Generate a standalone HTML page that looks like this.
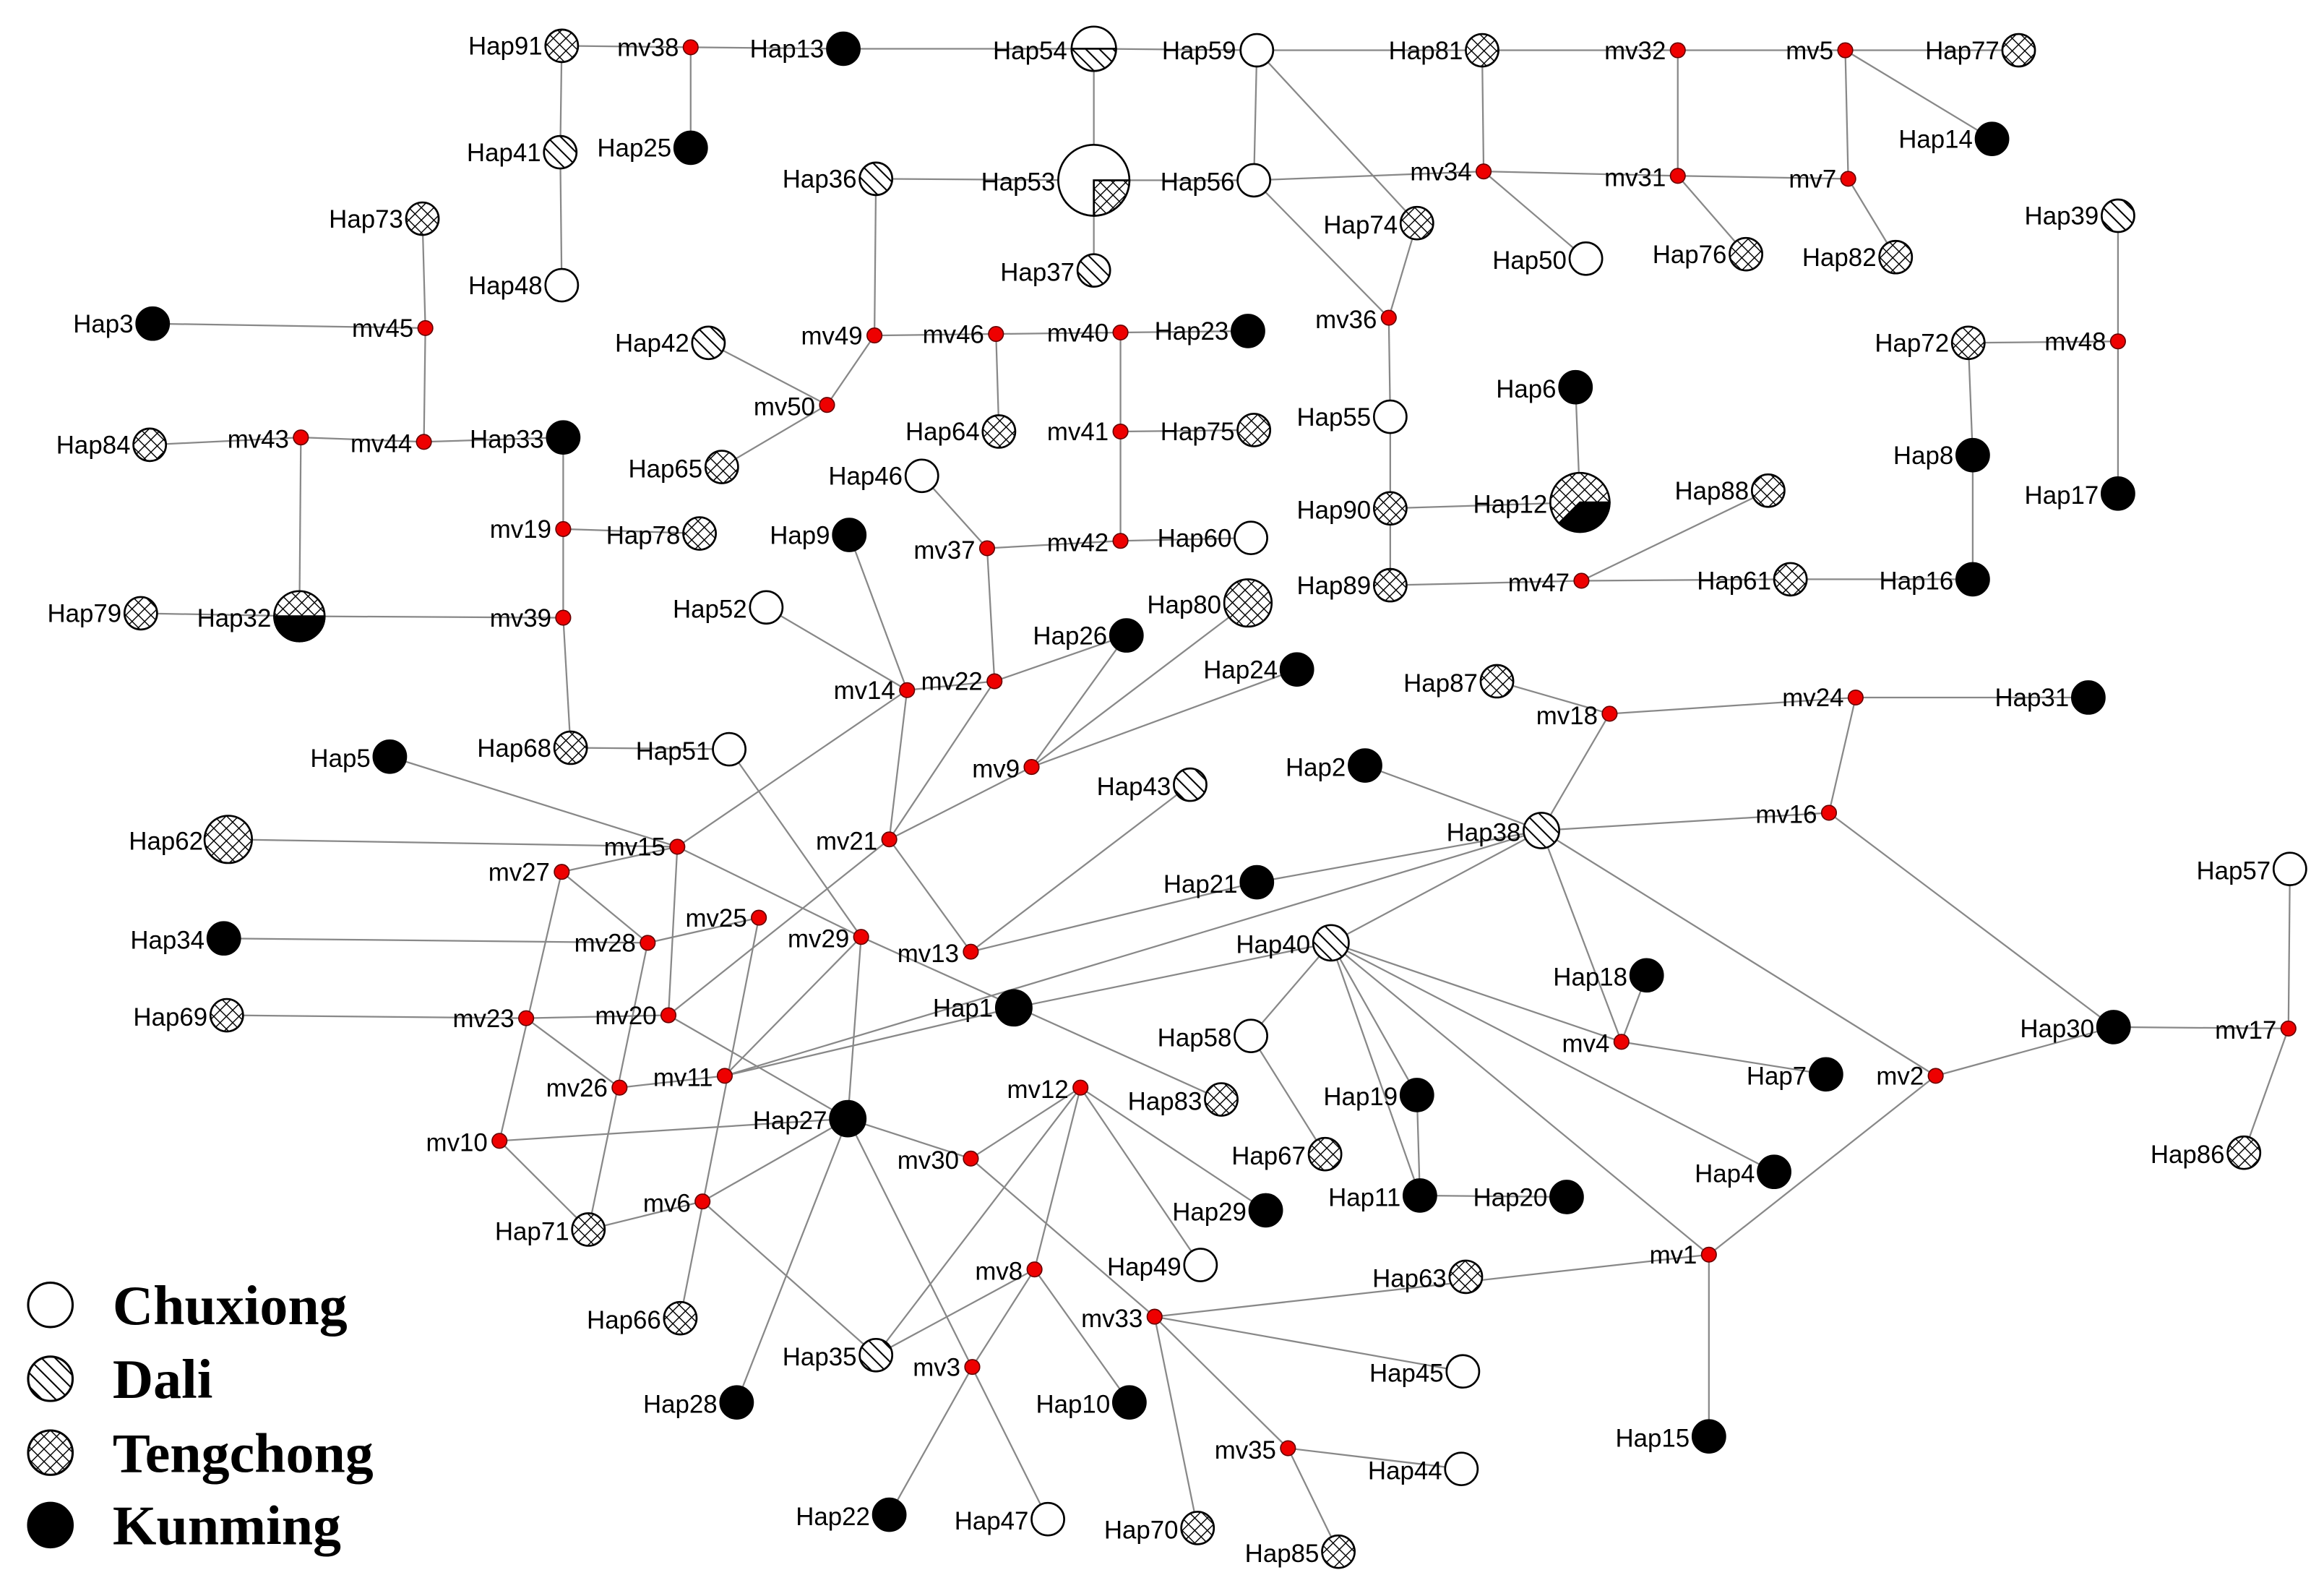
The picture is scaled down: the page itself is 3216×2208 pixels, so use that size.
<!DOCTYPE html>
<html><head><meta charset="utf-8"><style>html,body{margin:0;padding:0;background:#fff}svg{display:block}</style></head><body>
<svg width="3216" height="2208" viewBox="0 0 1568 1080" preserveAspectRatio="none" xmlns="http://www.w3.org/2000/svg">
<defs>
<pattern id="d" width="6.5" height="6.5" patternUnits="userSpaceOnUse" patternTransform="rotate(-45)"><rect width="6.5" height="6.5" fill="#fff"/><line x1="0" y1="0" x2="0" y2="6.5" stroke="#000" stroke-width="2"/></pattern>
<pattern id="t" width="6" height="6" patternUnits="userSpaceOnUse" patternTransform="rotate(45)"><rect width="6" height="6" fill="#fff"/><line x1="0" y1="0" x2="0" y2="6" stroke="#000" stroke-width="1.4"/><line x1="0" y1="0" x2="6" y2="0" stroke="#000" stroke-width="1.4"/></pattern>
</defs>
<rect width="1568" height="1080" fill="#fff"/>
<g stroke="#888" stroke-width="1.1">
<line x1="379" y1="31" x2="466" y2="32"/><line x1="466" y1="32" x2="569" y2="33"/><line x1="569" y1="33" x2="738" y2="33"/><line x1="738" y1="33" x2="848" y2="34"/><line x1="848" y1="34" x2="1000" y2="34"/><line x1="1000" y1="34" x2="1132" y2="34"/><line x1="1132" y1="34" x2="1245" y2="34"/><line x1="1245" y1="34" x2="1362" y2="34"/><line x1="1245" y1="34" x2="1344" y2="94"/><line x1="1245" y1="34" x2="1247" y2="121"/><line x1="1132" y1="34" x2="1132" y2="119"/><line x1="1132" y1="119" x2="1247" y2="121"/><line x1="1132" y1="119" x2="1178" y2="172"/><line x1="1247" y1="121" x2="1279" y2="174"/><line x1="1000" y1="34" x2="1001" y2="116"/><line x1="1001" y1="116" x2="1132" y2="119"/><line x1="846" y1="122" x2="1001" y2="116"/><line x1="1001" y1="116" x2="1070" y2="175"/><line x1="848" y1="34" x2="846" y2="122"/><line x1="848" y1="34" x2="956" y2="151"/><line x1="846" y1="122" x2="937" y2="215"/><line x1="956" y1="151" x2="937" y2="215"/><line x1="738" y1="33" x2="738" y2="122"/><line x1="738" y1="122" x2="738" y2="183"/><line x1="591" y1="121" x2="738" y2="122"/><line x1="738" y1="122" x2="846" y2="122"/><line x1="379" y1="31" x2="378" y2="103"/><line x1="378" y1="103" x2="379" y2="193"/><line x1="466" y1="32" x2="466" y2="100"/><line x1="591" y1="121" x2="590" y2="227"/><line x1="285" y1="148" x2="287" y2="222"/><line x1="103" y1="219" x2="287" y2="222"/><line x1="287" y1="222" x2="286" y2="299"/><line x1="286" y1="299" x2="203" y2="296"/><line x1="203" y1="296" x2="101" y2="301"/><line x1="286" y1="299" x2="380" y2="296"/><line x1="203" y1="296" x2="202" y2="417"/><line x1="95" y1="415" x2="202" y2="417"/><line x1="202" y1="417" x2="380" y2="418"/><line x1="380" y1="296" x2="380" y2="358"/><line x1="380" y1="358" x2="472" y2="361"/><line x1="380" y1="358" x2="380" y2="418"/><line x1="380" y1="418" x2="385" y2="506"/><line x1="385" y1="506" x2="492" y2="507"/><line x1="590" y1="227" x2="672" y2="226"/><line x1="672" y1="226" x2="756" y2="225"/><line x1="756" y1="225" x2="842" y2="224"/><line x1="672" y1="226" x2="674" y2="292"/><line x1="756" y1="225" x2="756" y2="292"/><line x1="756" y1="292" x2="846" y2="291"/><line x1="756" y1="292" x2="756" y2="366"/><line x1="756" y1="366" x2="844" y2="364"/><line x1="756" y1="366" x2="666" y2="371"/><line x1="666" y1="371" x2="622" y2="322"/><line x1="666" y1="371" x2="671" y2="461"/><line x1="590" y1="227" x2="558" y2="274"/><line x1="478" y1="232" x2="558" y2="274"/><line x1="558" y1="274" x2="487" y2="316"/><line x1="937" y1="215" x2="938" y2="282"/><line x1="938" y1="282" x2="938" y2="344"/><line x1="938" y1="344" x2="1066" y2="340"/><line x1="1066" y1="340" x2="1063" y2="262"/><line x1="938" y1="344" x2="938" y2="396"/><line x1="938" y1="396" x2="1067" y2="393"/><line x1="1067" y1="393" x2="1208" y2="392"/><line x1="1208" y1="392" x2="1331" y2="392"/><line x1="1067" y1="393" x2="1193" y2="332"/><line x1="1331" y1="392" x2="1331" y2="308"/><line x1="1331" y1="308" x2="1328" y2="232"/><line x1="1328" y1="232" x2="1429" y2="231"/><line x1="1429" y1="146" x2="1429" y2="231"/><line x1="1429" y1="231" x2="1429" y2="334"/>
<line x1="517" y1="411" x2="612" y2="467"/><line x1="573" y1="362" x2="612" y2="467"/><line x1="612" y1="467" x2="671" y2="461"/><line x1="671" y1="461" x2="760" y2="430"/><line x1="696" y1="519" x2="760" y2="430"/><line x1="696" y1="519" x2="842" y2="408"/><line x1="696" y1="519" x2="875" y2="453"/><line x1="696" y1="519" x2="600" y2="568"/><line x1="671" y1="461" x2="600" y2="568"/><line x1="612" y1="467" x2="600" y2="568"/><line x1="612" y1="467" x2="457" y2="573"/><line x1="263" y1="512" x2="457" y2="573"/><line x1="154" y1="568" x2="457" y2="573"/><line x1="379" y1="590" x2="457" y2="573"/><line x1="457" y1="573" x2="451" y2="687"/><line x1="457" y1="573" x2="581" y2="634"/><line x1="379" y1="590" x2="437" y2="638"/><line x1="151" y1="635" x2="437" y2="638"/><line x1="437" y1="638" x2="512" y2="621"/><line x1="451" y1="687" x2="600" y2="568"/><line x1="379" y1="590" x2="337" y2="772"/><line x1="437" y1="638" x2="397" y2="832"/><line x1="153" y1="687" x2="355" y2="689"/><line x1="355" y1="689" x2="451" y2="687"/><line x1="355" y1="689" x2="418" y2="736"/><line x1="337" y1="772" x2="397" y2="832"/><line x1="337" y1="772" x2="572" y2="757"/><line x1="451" y1="687" x2="572" y2="757"/><line x1="418" y1="736" x2="489" y2="728"/><line x1="489" y1="728" x2="684" y2="682"/><line x1="489" y1="728" x2="1040" y2="562"/><line x1="489" y1="728" x2="581" y2="634"/><line x1="581" y1="634" x2="572" y2="757"/><line x1="581" y1="634" x2="492" y2="507"/><line x1="581" y1="634" x2="824" y2="744"/><line x1="655" y1="644" x2="803" y2="531"/><line x1="655" y1="644" x2="848" y2="597"/><line x1="655" y1="644" x2="600" y2="568"/><line x1="848" y1="597" x2="1040" y2="562"/><line x1="684" y1="682" x2="898" y2="638"/><line x1="1040" y1="562" x2="898" y2="638"/><line x1="512" y1="621" x2="459" y2="892"/><line x1="474" y1="813" x2="572" y2="757"/><line x1="474" y1="813" x2="397" y2="832"/><line x1="474" y1="813" x2="591" y2="917"/><line x1="572" y1="757" x2="497" y2="949"/><line x1="572" y1="757" x2="707" y2="1028"/><line x1="656" y1="925" x2="600" y2="1025"/><line x1="656" y1="925" x2="698" y2="859"/><line x1="698" y1="859" x2="729" y2="736"/><line x1="591" y1="917" x2="729" y2="736"/><line x1="729" y1="736" x2="854" y2="819"/><line x1="729" y1="736" x2="810" y2="856"/><line x1="729" y1="736" x2="655" y2="784"/><line x1="655" y1="784" x2="572" y2="757"/><line x1="655" y1="784" x2="779" y2="891"/><line x1="698" y1="859" x2="762" y2="949"/><line x1="591" y1="917" x2="698" y2="859"/><line x1="779" y1="891" x2="1153" y2="849"/><line x1="779" y1="891" x2="987" y2="928"/><line x1="779" y1="891" x2="808" y2="1034"/><line x1="779" y1="891" x2="869" y2="980"/><line x1="869" y1="980" x2="986" y2="994"/><line x1="869" y1="980" x2="903" y2="1050"/><line x1="1153" y1="849" x2="1153" y2="972"/><line x1="1153" y1="849" x2="1306" y2="728"/><line x1="1153" y1="849" x2="898" y2="638"/><line x1="1306" y1="728" x2="1040" y2="562"/><line x1="1306" y1="728" x2="1426" y2="695"/><line x1="1426" y1="695" x2="1234" y2="550"/><line x1="1426" y1="695" x2="1544" y2="696"/><line x1="1544" y1="696" x2="1545" y2="588"/><line x1="1544" y1="696" x2="1514" y2="780"/><line x1="1234" y1="550" x2="1040" y2="562"/><line x1="1234" y1="550" x2="1252" y2="472"/><line x1="1252" y1="472" x2="1086" y2="483"/><line x1="1252" y1="472" x2="1409" y2="472"/><line x1="1086" y1="483" x2="1010" y2="461"/><line x1="1086" y1="483" x2="1040" y2="562"/><line x1="1040" y1="562" x2="921" y2="518"/><line x1="1040" y1="562" x2="1094" y2="705"/><line x1="1111" y1="660" x2="1094" y2="705"/><line x1="1094" y1="705" x2="1232" y2="727"/><line x1="898" y1="638" x2="1094" y2="705"/><line x1="898" y1="638" x2="1197" y2="793"/><line x1="898" y1="638" x2="956" y2="741"/><line x1="956" y1="741" x2="958" y2="809"/><line x1="958" y1="809" x2="1057" y2="810"/><line x1="898" y1="638" x2="844" y2="701"/><line x1="844" y1="701" x2="894" y2="781"/><line x1="898" y1="638" x2="958" y2="809"/>
</g>
<g stroke="#000" stroke-width="1.3">
<circle cx="738" cy="33" r="15" fill="#fff"/><path d="M723,33 A15,15 0 0 0 753,33 Z" fill="url(#d)"/>
<circle cx="738" cy="122" r="24" fill="#fff"/><path d="M738,122 L762,122 A24,24 0 0 1 738,146 Z" fill="url(#t)"/>
<circle cx="1066" cy="340" r="20" fill="url(#t)"/><path d="M1066,340 L1086,340 A20,20 0 0 1 1052,354 Z" fill="#000"/>
<circle cx="202" cy="417" r="17" fill="url(#t)"/><path d="M185,417 A17,17 0 0 0 219,417 Z" fill="#000"/>
<circle cx="848" cy="34" r="11" fill="#fff"/><circle cx="846" cy="122" r="11" fill="#fff"/>
<circle cx="684" cy="682" r="12" fill="#000"/><circle cx="572" cy="757" r="12" fill="#000"/>
<circle cx="154" cy="568" r="16" fill="url(#t)"/><circle cx="842" cy="408" r="16" fill="url(#t)"/>
<g fill="#fff"><circle cx="379" cy="193" r="11"/><circle cx="1070" cy="175" r="11"/><circle cx="938" cy="282" r="11"/><circle cx="622" cy="322" r="11"/><circle cx="844" cy="364" r="11"/><circle cx="517" cy="411" r="11"/><circle cx="492" cy="507" r="11"/><circle cx="1545" cy="588" r="11"/><circle cx="844" cy="701" r="11"/><circle cx="810" cy="856" r="11"/><circle cx="987" cy="928" r="11"/><circle cx="986" cy="994" r="11"/><circle cx="707" cy="1028" r="11"/></g>
<g fill="url(#d)"><circle cx="378" cy="103" r="11"/><circle cx="591" cy="121" r="11"/><circle cx="1429" cy="146" r="11"/><circle cx="738" cy="183" r="11"/><circle cx="478" cy="232" r="11"/><circle cx="803" cy="531" r="11"/><circle cx="1040" cy="562" r="12"/><circle cx="898" cy="638" r="12"/><circle cx="591" cy="917" r="11"/></g>
<g fill="url(#t)"><circle cx="379" cy="31" r="11"/><circle cx="1000" cy="34" r="11"/><circle cx="1362" cy="34" r="11"/><circle cx="956" cy="151" r="11"/><circle cx="1178" cy="172" r="11"/><circle cx="1279" cy="174" r="11"/><circle cx="285" cy="148" r="11"/><circle cx="1328" cy="232" r="11"/><circle cx="101" cy="301" r="11"/><circle cx="674" cy="292" r="11"/><circle cx="846" cy="291" r="11"/><circle cx="487" cy="316" r="11"/><circle cx="1193" cy="332" r="11"/><circle cx="938" cy="344" r="11"/><circle cx="472" cy="361" r="11"/><circle cx="938" cy="396" r="11"/><circle cx="1208" cy="392" r="11"/><circle cx="95" cy="415" r="11"/><circle cx="1010" cy="461" r="11"/><circle cx="385" cy="506" r="11"/><circle cx="153" cy="687" r="11"/><circle cx="824" cy="744" r="11"/><circle cx="1514" cy="780" r="11"/><circle cx="894" cy="781" r="11"/><circle cx="397" cy="832" r="11"/><circle cx="989" cy="864" r="11"/><circle cx="459" cy="892" r="11"/><circle cx="808" cy="1034" r="11"/><circle cx="903" cy="1050" r="11"/></g>
<g fill="#000"><circle cx="569" cy="33" r="11"/><circle cx="1344" cy="94" r="11"/><circle cx="466" cy="100" r="11"/><circle cx="103" cy="219" r="11"/><circle cx="842" cy="224" r="11"/><circle cx="1063" cy="262" r="11"/><circle cx="380" cy="296" r="11"/><circle cx="1331" cy="308" r="11"/><circle cx="1429" cy="334" r="11"/><circle cx="573" cy="362" r="11"/><circle cx="1331" cy="392" r="11"/><circle cx="760" cy="430" r="11"/><circle cx="875" cy="453" r="11"/><circle cx="1409" cy="472" r="11"/><circle cx="263" cy="512" r="11"/><circle cx="921" cy="518" r="11"/><circle cx="848" cy="597" r="11"/><circle cx="151" cy="635" r="11"/><circle cx="1111" cy="660" r="11"/><circle cx="1426" cy="695" r="11"/><circle cx="1232" cy="727" r="11"/><circle cx="956" cy="741" r="11"/><circle cx="1197" cy="793" r="11"/><circle cx="958" cy="809" r="11"/><circle cx="1057" cy="810" r="11"/><circle cx="854" cy="819" r="11"/><circle cx="497" cy="949" r="11"/><circle cx="762" cy="949" r="11"/><circle cx="1153" cy="972" r="11"/><circle cx="600" cy="1025" r="11"/></g>
</g>
<g fill="#e00" stroke="#600" stroke-width="0.8">
<circle cx="466" cy="32" r="5"/><circle cx="1132" cy="34" r="5"/><circle cx="1245" cy="34" r="5"/><circle cx="1001" cy="116" r="5"/><circle cx="1132" cy="119" r="5"/><circle cx="1247" cy="121" r="5"/><circle cx="287" cy="222" r="5"/><circle cx="590" cy="227" r="5"/><circle cx="672" cy="226" r="5"/><circle cx="756" cy="225" r="5"/><circle cx="937" cy="215" r="5"/><circle cx="1429" cy="231" r="5"/><circle cx="558" cy="274" r="5"/><circle cx="203" cy="296" r="5"/><circle cx="286" cy="299" r="5"/><circle cx="756" cy="292" r="5"/><circle cx="380" cy="358" r="5"/><circle cx="666" cy="371" r="5"/><circle cx="756" cy="366" r="5"/><circle cx="1067" cy="393" r="5"/><circle cx="380" cy="418" r="5"/><circle cx="671" cy="461" r="5"/><circle cx="612" cy="467" r="5"/><circle cx="1086" cy="483" r="5"/><circle cx="1252" cy="472" r="5"/><circle cx="696" cy="519" r="5"/><circle cx="1234" cy="550" r="5"/><circle cx="457" cy="573" r="5"/><circle cx="379" cy="590" r="5"/><circle cx="600" cy="568" r="5"/><circle cx="437" cy="638" r="5"/><circle cx="512" cy="621" r="5"/><circle cx="581" cy="634" r="5"/><circle cx="655" cy="644" r="5"/><circle cx="355" cy="689" r="5"/><circle cx="451" cy="687" r="5"/><circle cx="1094" cy="705" r="5"/><circle cx="1544" cy="696" r="5"/><circle cx="1306" cy="728" r="5"/><circle cx="418" cy="736" r="5"/><circle cx="489" cy="728" r="5"/><circle cx="729" cy="736" r="5"/><circle cx="337" cy="772" r="5"/><circle cx="655" cy="784" r="5"/><circle cx="474" cy="813" r="5"/><circle cx="1153" cy="849" r="5"/><circle cx="698" cy="859" r="5"/><circle cx="779" cy="891" r="5"/><circle cx="656" cy="925" r="5"/><circle cx="869" cy="980" r="5"/>
</g>
<g font-family="Liberation Sans, sans-serif" font-size="17" fill="#000" text-anchor="end">
<text x="366" y="37">Hap91</text><text x="458" y="38">mv38</text><text x="556" y="39">Hap13</text><text x="720" y="40">Hap54</text><text x="834" y="40">Hap59</text><text x="987" y="40">Hap81</text><text x="1124" y="40">mv32</text><text x="1237" y="40">mv5</text><text x="1349" y="40">Hap77</text><text x="1331" y="100">Hap14</text><text x="365" y="109">Hap41</text><text x="453" y="106">Hap25</text><text x="578" y="127">Hap36</text><text x="712" y="129">Hap53</text><text x="833" y="129">Hap56</text><text x="993" y="122">mv34</text><text x="1124" y="126">mv31</text><text x="1239" y="127">mv7</text><text x="943" y="158">Hap74</text><text x="1057" y="182">Hap50</text><text x="1165" y="178">Hap76</text><text x="1266" y="180">Hap82</text><text x="1416" y="152">Hap39</text><text x="272" y="154">Hap73</text><text x="366" y="199">Hap48</text><text x="725" y="190">Hap37</text><text x="90" y="225">Hap3</text><text x="279" y="228">mv45</text><text x="465" y="238">Hap42</text><text x="582" y="233">mv49</text><text x="664" y="232">mv46</text><text x="748" y="231">mv40</text><text x="829" y="230">Hap23</text><text x="929" y="222">mv36</text><text x="1315" y="238">Hap72</text><text x="1421" y="237">mv48</text><text x="1050" y="269">Hap6</text><text x="550" y="281">mv50</text><text x="925" y="288">Hap55</text><text x="88" y="307">Hap84</text><text x="195" y="303">mv43</text><text x="278" y="306">mv44</text><text x="367" y="303">Hap33</text><text x="661" y="298">Hap64</text><text x="748" y="298">mv41</text><text x="833" y="298">Hap75</text><text x="1318" y="314">Hap8</text><text x="1416" y="341">Hap17</text><text x="474" y="323">Hap65</text><text x="609" y="328">Hap46</text><text x="1180" y="338">Hap88</text><text x="1044" y="347">Hap12</text><text x="925" y="351">Hap90</text><text x="372" y="364">mv19</text><text x="459" y="368">Hap78</text><text x="560" y="368">Hap9</text><text x="658" y="378">mv37</text><text x="748" y="373">mv42</text><text x="831" y="370">Hap60</text><text x="1318" y="399">Hap16</text><text x="925" y="402">Hap89</text><text x="1059" y="400">mv47</text><text x="1195" y="399">Hap61</text><text x="82" y="421">Hap79</text><text x="183" y="424">Hap32</text><text x="372" y="424">mv39</text><text x="504" y="418">Hap52</text><text x="824" y="415">Hap80</text><text x="747" y="436">Hap26</text><text x="663" y="467">mv22</text><text x="604" y="473">mv14</text><text x="862" y="459">Hap24</text><text x="997" y="468">Hap87</text><text x="1078" y="490">mv18</text><text x="1244" y="478">mv24</text><text x="1396" y="478">Hap31</text><text x="372" y="512">Hap68</text><text x="479" y="514">Hap51</text><text x="250" y="519">Hap5</text><text x="688" y="526">mv9</text><text x="790" y="538">Hap43</text><text x="908" y="525">Hap2</text><text x="1026" y="569">Hap38</text><text x="1226" y="557">mv16</text><text x="137" y="575">Hap62</text><text x="449" y="579">mv15</text><text x="371" y="596">mv27</text><text x="592" y="575">mv21</text><text x="835" y="604">Hap21</text><text x="1532" y="595">Hap57</text><text x="138" y="642">Hap34</text><text x="429" y="644">mv28</text><text x="504" y="627">mv25</text><text x="573" y="641">mv29</text><text x="647" y="651">mv13</text><text x="884" y="645">Hap40</text><text x="1098" y="667">Hap18</text><text x="140" y="694">Hap69</text><text x="347" y="695">mv23</text><text x="443" y="693">mv20</text><text x="670" y="688">Hap1</text><text x="831" y="708">Hap58</text><text x="1086" y="712">mv4</text><text x="1413" y="702">Hap30</text><text x="1536" y="703">mv17</text><text x="1219" y="734">Hap7</text><text x="1298" y="734">mv2</text><text x="410" y="742">mv26</text><text x="481" y="735">mv11</text><text x="558" y="764">Hap27</text><text x="721" y="743">mv12</text><text x="811" y="751">Hap83</text><text x="943" y="748">Hap19</text><text x="329" y="779">mv10</text><text x="1501" y="787">Hap86</text><text x="647" y="791">mv30</text><text x="881" y="788">Hap67</text><text x="1184" y="800">Hap4</text><text x="945" y="816">Hap11</text><text x="1044" y="816">Hap20</text><text x="466" y="820">mv6</text><text x="384" y="839">Hap71</text><text x="841" y="826">Hap29</text><text x="797" y="863">Hap49</text><text x="1145" y="855">mv1</text><text x="690" y="866">mv8</text><text x="976" y="871">Hap63</text><text x="771" y="898">mv33</text><text x="446" y="899">Hap66</text><text x="578" y="924">Hap35</text><text x="648" y="931">mv3</text><text x="974" y="935">Hap45</text><text x="484" y="956">Hap28</text><text x="749" y="956">Hap10</text><text x="1140" y="979">Hap15</text><text x="861" y="987">mv35</text><text x="973" y="1001">Hap44</text><text x="587" y="1032">Hap22</text><text x="694" y="1035">Hap47</text><text x="795" y="1041">Hap70</text><text x="890" y="1057">Hap85</text>
</g>
<g stroke="#000" stroke-width="1.5">
<circle cx="34" cy="883" r="15" fill="#fff"/><circle cx="34" cy="933" r="15" fill="url(#d)"/><circle cx="34" cy="983" r="15" fill="url(#t)"/><circle cx="34" cy="1032" r="15" fill="#000"/>
</g>
<g font-family="Liberation Serif, serif" font-weight="bold" font-size="38" fill="#000">
<text x="76" y="896">Chuxiong</text><text x="76" y="946">Dali</text><text x="76" y="996">Tengchong</text><text x="76" y="1045">Kunming</text>
</g>
</svg>
</body></html>
